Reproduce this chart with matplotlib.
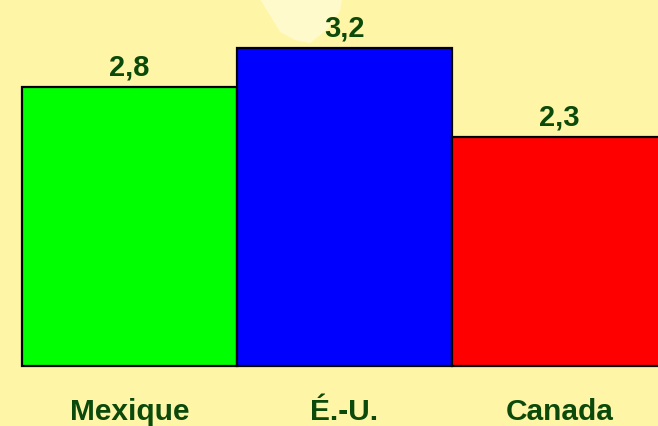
import matplotlib.pyplot as plt
from matplotlib.patches import Polygon

# data
countries = ["Mexique", "É.-U.", "Canada"]
values = [2.8, 3.2, 2.3]
value_labels = ["2,8", "3,2", "2,3"]
bar_colors = ["#00ff00", "#0000ff", "#ff0000"]

bg = "#fff5a6"
txt_col = "#0b4a0b"

fig = plt.figure(figsize=(6.58, 4.27), dpi=100, facecolor=bg)
ax = fig.add_axes([0, 0, 1, 1])
ax.set_facecolor(bg)

# faint lighter shape at the top (background decoration)
W, H = 658.0, 427.0
pts = [(260, 0), (280, 33), (295, 41), (310, 44), (327, 31), (340, 12), (342, 0)]
deco = Polygon([(x / W, 1 - y / H) for x, y in pts], closed=True,
               transform=fig.transFigure, facecolor="#fffacb", edgecolor="none", zorder=0.5)
ax.add_patch(deco)

x = range(len(values))
ax.bar(x, values, width=1.0, color=bar_colors, edgecolor="black", linewidth=1.6, zorder=2)

for xi, v, lab in zip(x, values, value_labels):
    ax.annotate(lab, (xi, v), xytext=(0, 9), textcoords="offset points",
                ha="center", va="baseline", fontsize=21, fontweight="bold",
                color=txt_col, family="Liberation Sans", zorder=3)

for xi, name in zip(x, countries):
    ax.text(xi, -0.533, name, ha="center", va="baseline", fontsize=21.5,
            fontweight="bold", color=txt_col, family="Liberation Sans")

ax.set_xlim(-0.602, 2.458)
ax.set_ylim(-0.603, 3.688)
ax.axis("off")

fig.savefig("out.png", dpi=100, facecolor=bg)
